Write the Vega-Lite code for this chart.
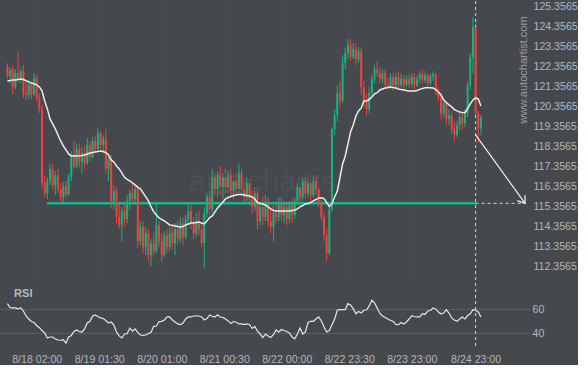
{
"$schema": "https://vega.github.io/schema/vega-lite/v6.json",
"background": "#45484d",
"padding": 0,
"autosize": {"type": "pad"},
"spacing": 0,
"config": {"view": {"stroke": null}, "font": "Liberation Sans", "axis": {"labelFont": "Liberation Sans", "labelColor": "#b3b6ba", "labelFontSize": 10.6, "domain": false, "ticks": false, "labelOverlap": false}},
"datasets": {"candles": [
{"t":-9,"o":122.35,"hi":122.5,"lo":121.7,"c":121.85,"ma":121.61,"rsi":64.7},
{"t":-8,"o":121.85,"hi":122.3,"lo":121.5,"c":122.15,"ma":121.63,"rsi":61.3},
{"t":-7,"o":122.2,"hi":122.4,"lo":120.95,"c":121.3,"ma":121.66,"rsi":61.1},
{"t":-6,"o":121.3,"hi":122.2,"lo":121.2,"c":122.0,"ma":121.66,"rsi":61.1},
{"t":-5,"o":122.0,"hi":123.1,"lo":121.55,"c":121.7,"ma":121.68,"rsi":60.3},
{"t":-4,"o":121.7,"hi":122.25,"lo":121.5,"c":122.1,"ma":121.71,"rsi":61.3},
{"t":-3,"o":122.1,"hi":122.4,"lo":120.75,"c":121.0,"ma":121.68,"rsi":58.6},
{"t":-2,"o":121.0,"hi":121.55,"lo":120.65,"c":120.9,"ma":121.62,"rsi":54.4},
{"t":-1,"o":120.9,"hi":121.65,"lo":120.7,"c":121.45,"ma":121.56,"rsi":51.9},
{"t":0,"o":121.45,"hi":121.6,"lo":120.7,"c":120.95,"ma":121.51,"rsi":49.8},
{"t":1,"o":120.95,"hi":122.0,"lo":120.85,"c":121.75,"ma":121.47,"rsi":49.0},
{"t":2,"o":121.75,"hi":121.9,"lo":120.6,"c":120.75,"ma":121.41,"rsi":46.3},
{"t":3,"o":120.75,"hi":121.0,"lo":120.0,"c":120.2,"ma":121.31,"rsi":44.8},
{"t":4,"o":120.2,"hi":120.4,"lo":116.2,"c":116.5,"ma":121.11,"rsi":42.3},
{"t":5,"o":116.5,"hi":116.9,"lo":115.8,"c":116.0,"ma":120.61,"rsi":40.3},
{"t":6,"o":116.0,"hi":116.8,"lo":115.7,"c":116.6,"ma":120.21,"rsi":36.1},
{"t":7,"o":116.6,"hi":117.45,"lo":116.4,"c":117.2,"ma":119.71,"rsi":36.9},
{"t":8,"o":117.2,"hi":117.45,"lo":116.2,"c":116.4,"ma":119.46,"rsi":36.9},
{"t":9,"o":116.4,"hi":117.1,"lo":115.9,"c":116.9,"ma":119.21,"rsi":35.3},
{"t":10,"o":116.9,"hi":117.2,"lo":116.0,"c":116.2,"ma":118.91,"rsi":34.4},
{"t":11,"o":116.2,"hi":116.5,"lo":115.6,"c":115.8,"ma":118.61,"rsi":34.2},
{"t":12,"o":115.8,"hi":116.55,"lo":115.5,"c":116.35,"ma":118.36,"rsi":34.7},
{"t":13,"o":116.35,"hi":116.6,"lo":115.75,"c":115.95,"ma":118.16,"rsi":31.9},
{"t":14,"o":115.95,"hi":117.0,"lo":115.85,"c":116.8,"ma":117.96,"rsi":36.9},
{"t":15,"o":116.8,"hi":118.1,"lo":116.6,"c":117.95,"ma":117.86,"rsi":38.2},
{"t":16,"o":117.95,"hi":118.6,"lo":117.2,"c":117.35,"ma":117.86,"rsi":41.5},
{"t":17,"o":117.35,"hi":118.45,"lo":117.25,"c":118.2,"ma":117.86,"rsi":42.8},
{"t":18,"o":118.2,"hi":118.5,"lo":117.3,"c":117.55,"ma":117.87,"rsi":41.5},
{"t":19,"o":117.55,"hi":118.3,"lo":117.0,"c":118.0,"ma":117.88,"rsi":41.1},
{"t":20,"o":118.0,"hi":118.35,"lo":117.2,"c":117.5,"ma":117.91,"rsi":43.6},
{"t":21,"o":117.5,"hi":118.75,"lo":117.4,"c":118.4,"ma":117.96,"rsi":48.6},
{"t":22,"o":118.4,"hi":118.6,"lo":117.6,"c":117.8,"ma":118.01,"rsi":50.0},
{"t":23,"o":117.8,"hi":118.8,"lo":117.7,"c":118.6,"ma":118.03,"rsi":54.2},
{"t":24,"o":118.6,"hi":118.9,"lo":118.0,"c":118.2,"ma":118.06,"rsi":55.3},
{"t":25,"o":118.2,"hi":119.25,"lo":118.1,"c":119.0,"ma":118.08,"rsi":54.0},
{"t":26,"o":119.0,"hi":119.1,"lo":118.2,"c":118.4,"ma":118.11,"rsi":52.8},
{"t":27,"o":118.4,"hi":118.9,"lo":118.0,"c":118.7,"ma":118.08,"rsi":52.3},
{"t":28,"o":118.7,"hi":119.2,"lo":116.95,"c":117.2,"ma":118.03,"rsi":50.7},
{"t":29,"o":117.2,"hi":118.0,"lo":116.6,"c":117.7,"ma":117.91,"rsi":48.6},
{"t":30,"o":117.7,"hi":117.9,"lo":115.25,"c":115.6,"ma":117.66,"rsi":49.4},
{"t":31,"o":115.6,"hi":116.4,"lo":115.2,"c":116.1,"ma":117.56,"rsi":46.9},
{"t":32,"o":116.1,"hi":116.3,"lo":114.5,"c":114.8,"ma":117.36,"rsi":41.1},
{"t":33,"o":114.8,"hi":115.5,"lo":114.2,"c":114.4,"ma":117.21,"rsi":37.8},
{"t":34,"o":114.4,"hi":115.3,"lo":113.6,"c":115.1,"ma":117.01,"rsi":36.1},
{"t":35,"o":115.1,"hi":115.5,"lo":114.3,"c":114.7,"ma":116.79,"rsi":39.4},
{"t":36,"o":114.7,"hi":115.9,"lo":114.5,"c":115.6,"ma":116.69,"rsi":39.7},
{"t":37,"o":115.6,"hi":116.2,"lo":115.2,"c":116.0,"ma":116.61,"rsi":44.4},
{"t":38,"o":116.0,"hi":116.45,"lo":115.45,"c":115.7,"ma":116.51,"rsi":41.7},
{"t":39,"o":115.7,"hi":116.4,"lo":115.5,"c":116.2,"ma":116.41,"rsi":43.6},
{"t":40,"o":116.2,"hi":116.4,"lo":113.25,"c":113.6,"ma":116.29,"rsi":40.8},
{"t":41,"o":113.6,"hi":114.6,"lo":113.4,"c":114.3,"ma":116.21,"rsi":38.6},
{"t":42,"o":114.3,"hi":114.6,"lo":113.0,"c":113.3,"ma":116.01,"rsi":38.3},
{"t":43,"o":113.3,"hi":114.3,"lo":112.9,"c":114.0,"ma":115.81,"rsi":38.6},
{"t":44,"o":114.0,"hi":114.2,"lo":112.6,"c":112.9,"ma":115.61,"rsi":39.8},
{"t":45,"o":112.9,"hi":113.7,"lo":112.35,"c":113.5,"ma":115.31,"rsi":40.8},
{"t":46,"o":113.5,"hi":114.0,"lo":112.8,"c":113.1,"ma":115.06,"rsi":45.8},
{"t":47,"o":113.1,"hi":115.45,"lo":113.0,"c":114.4,"ma":114.91,"rsi":46.1},
{"t":48,"o":114.4,"hi":114.6,"lo":113.3,"c":113.6,"ma":114.76,"rsi":49.8},
{"t":49,"o":113.6,"hi":114.0,"lo":112.6,"c":112.9,"ma":114.68,"rsi":50.0},
{"t":50,"o":112.9,"hi":114.1,"lo":112.8,"c":113.9,"ma":114.61,"rsi":51.1},
{"t":51,"o":113.9,"hi":114.2,"lo":113.0,"c":113.3,"ma":114.51,"rsi":53.6},
{"t":52,"o":113.3,"hi":114.3,"lo":113.1,"c":114.0,"ma":114.41,"rsi":53.6},
{"t":53,"o":114.0,"hi":114.4,"lo":113.2,"c":113.5,"ma":114.39,"rsi":51.1},
{"t":54,"o":113.5,"hi":114.5,"lo":112.9,"c":114.2,"ma":114.36,"rsi":49.4},
{"t":55,"o":114.2,"hi":114.6,"lo":113.4,"c":113.7,"ma":114.33,"rsi":47.8},
{"t":56,"o":113.7,"hi":114.8,"lo":113.5,"c":114.5,"ma":114.31,"rsi":47.2},
{"t":57,"o":114.5,"hi":114.8,"lo":113.4,"c":113.8,"ma":114.33,"rsi":48.6},
{"t":58,"o":113.8,"hi":114.9,"lo":113.7,"c":114.7,"ma":114.41,"rsi":51.9},
{"t":59,"o":114.7,"hi":115.45,"lo":114.4,"c":115.1,"ma":114.46,"rsi":53.6},
{"t":60,"o":115.1,"hi":115.4,"lo":114.2,"c":114.5,"ma":114.51,"rsi":53.6},
{"t":61,"o":114.5,"hi":114.8,"lo":113.7,"c":114.0,"ma":114.51,"rsi":54.4},
{"t":62,"o":114.0,"hi":115.0,"lo":113.8,"c":114.6,"ma":114.53,"rsi":54.4},
{"t":63,"o":114.6,"hi":115.1,"lo":113.9,"c":114.2,"ma":114.56,"rsi":54.4},
{"t":64,"o":114.2,"hi":114.5,"lo":113.3,"c":113.5,"ma":114.51,"rsi":53.6},
{"t":65,"o":113.5,"hi":115.3,"lo":112.25,"c":115.0,"ma":114.46,"rsi":51.1},
{"t":66,"o":115.0,"hi":116.0,"lo":114.8,"c":115.8,"ma":114.61,"rsi":52.3},
{"t":67,"o":115.8,"hi":116.1,"lo":114.9,"c":115.2,"ma":114.78,"rsi":55.3},
{"t":68,"o":115.2,"hi":117.2,"lo":115.0,"c":116.8,"ma":114.86,"rsi":54.2},
{"t":69,"o":116.8,"hi":117.0,"lo":115.9,"c":116.2,"ma":115.06,"rsi":53.6},
{"t":70,"o":116.2,"hi":117.1,"lo":115.8,"c":116.9,"ma":115.26,"rsi":55.5},
{"t":71,"o":116.9,"hi":117.35,"lo":115.9,"c":116.3,"ma":115.41,"rsi":53.6},
{"t":72,"o":116.3,"hi":117.0,"lo":115.7,"c":116.8,"ma":115.56,"rsi":53.2},
{"t":73,"o":116.8,"hi":117.2,"lo":116.0,"c":116.3,"ma":115.71,"rsi":51.9},
{"t":74,"o":116.3,"hi":117.1,"lo":116.0,"c":116.9,"ma":115.78,"rsi":50.3},
{"t":75,"o":116.9,"hi":117.2,"lo":115.8,"c":116.1,"ma":115.83,"rsi":48.2},
{"t":76,"o":116.1,"hi":116.9,"lo":115.7,"c":116.6,"ma":115.88,"rsi":49.8},
{"t":77,"o":116.6,"hi":117.0,"lo":115.9,"c":116.2,"ma":115.91,"rsi":49.2},
{"t":78,"o":116.2,"hi":117.45,"lo":116.0,"c":117.0,"ma":115.93,"rsi":47.8},
{"t":79,"o":117.0,"hi":117.2,"lo":115.9,"c":116.2,"ma":115.93,"rsi":47.8},
{"t":80,"o":116.2,"hi":116.6,"lo":115.5,"c":115.8,"ma":115.91,"rsi":47.3},
{"t":81,"o":115.8,"hi":116.8,"lo":115.6,"c":116.5,"ma":115.88,"rsi":47.8},
{"t":82,"o":116.5,"hi":116.7,"lo":115.4,"c":115.7,"ma":115.86,"rsi":47.3},
{"t":83,"o":115.7,"hi":116.2,"lo":115.0,"c":115.3,"ma":115.81,"rsi":44.0},
{"t":84,"o":115.3,"hi":116.3,"lo":115.1,"c":116.0,"ma":115.71,"rsi":45.7},
{"t":85,"o":116.0,"hi":116.3,"lo":114.2,"c":114.6,"ma":115.53,"rsi":41.7},
{"t":86,"o":114.6,"hi":115.6,"lo":114.4,"c":115.3,"ma":115.48,"rsi":39.4},
{"t":87,"o":115.3,"hi":115.8,"lo":114.4,"c":114.8,"ma":115.46,"rsi":36.5},
{"t":88,"o":114.8,"hi":115.9,"lo":114.6,"c":115.5,"ma":115.41,"rsi":39.4},
{"t":89,"o":115.5,"hi":115.8,"lo":114.3,"c":114.6,"ma":115.31,"rsi":37.8},
{"t":90,"o":114.6,"hi":115.2,"lo":114.0,"c":114.3,"ma":115.21,"rsi":36.5},
{"t":91,"o":114.3,"hi":115.4,"lo":113.6,"c":115.0,"ma":115.13,"rsi":38.8},
{"t":92,"o":115.0,"hi":115.6,"lo":114.5,"c":114.8,"ma":115.11,"rsi":42.8},
{"t":93,"o":114.8,"hi":115.8,"lo":114.6,"c":115.5,"ma":115.11,"rsi":41.1},
{"t":94,"o":115.5,"hi":115.8,"lo":114.6,"c":114.9,"ma":115.11,"rsi":43.2},
{"t":95,"o":114.9,"hi":115.6,"lo":114.5,"c":115.3,"ma":115.11,"rsi":42.3},
{"t":96,"o":115.3,"hi":115.5,"lo":114.4,"c":114.7,"ma":115.11,"rsi":41.5},
{"t":97,"o":114.7,"hi":115.6,"lo":114.5,"c":115.4,"ma":115.11,"rsi":40.3},
{"t":98,"o":115.4,"hi":115.7,"lo":114.5,"c":114.9,"ma":115.13,"rsi":36.9},
{"t":99,"o":114.9,"hi":115.8,"lo":114.7,"c":115.6,"ma":115.16,"rsi":35.3},
{"t":100,"o":115.6,"hi":116.5,"lo":115.4,"c":116.3,"ma":115.21,"rsi":39.4},
{"t":101,"o":116.3,"hi":116.5,"lo":115.5,"c":115.8,"ma":115.31,"rsi":44.4},
{"t":102,"o":115.8,"hi":116.8,"lo":115.6,"c":116.6,"ma":115.38,"rsi":39.4},
{"t":103,"o":116.6,"hi":116.9,"lo":115.7,"c":116.0,"ma":115.46,"rsi":41.1},
{"t":104,"o":116.0,"hi":116.8,"lo":115.8,"c":116.5,"ma":115.48,"rsi":49.0},
{"t":105,"o":116.5,"hi":116.75,"lo":115.6,"c":115.9,"ma":115.53,"rsi":50.0},
{"t":106,"o":115.9,"hi":116.85,"lo":115.8,"c":116.6,"ma":115.61,"rsi":50.0},
{"t":107,"o":116.6,"hi":116.9,"lo":115.9,"c":116.2,"ma":115.68,"rsi":51.9},
{"t":108,"o":116.2,"hi":116.4,"lo":115.3,"c":115.5,"ma":115.76,"rsi":53.6},
{"t":109,"o":115.5,"hi":115.7,"lo":114.6,"c":114.8,"ma":115.77,"rsi":50.3},
{"t":110,"o":114.8,"hi":115.0,"lo":113.6,"c":113.9,"ma":115.73,"rsi":45.3},
{"t":111,"o":113.9,"hi":114.2,"lo":112.6,"c":113.0,"ma":115.53,"rsi":41.1},
{"t":112,"o":113.0,"hi":115.3,"lo":112.9,"c":115.2,"ma":115.33,"rsi":42.3},
{"t":113,"o":115.2,"hi":119.3,"lo":115.1,"c":119.2,"ma":115.46,"rsi":47.2},
{"t":114,"o":119.2,"hi":120.2,"lo":118.9,"c":119.9,"ma":115.81,"rsi":51.9},
{"t":115,"o":119.9,"hi":121.4,"lo":119.6,"c":121.0,"ma":116.11,"rsi":59.2},
{"t":116,"o":121.0,"hi":121.6,"lo":120.3,"c":120.6,"ma":116.77,"rsi":59.7},
{"t":117,"o":120.6,"hi":122.9,"lo":120.5,"c":122.5,"ma":117.46,"rsi":59.7},
{"t":118,"o":122.5,"hi":123.3,"lo":122.2,"c":123.0,"ma":117.86,"rsi":59.7},
{"t":119,"o":123.0,"hi":123.7,"lo":122.7,"c":123.4,"ma":118.46,"rsi":64.7},
{"t":120,"o":123.4,"hi":123.7,"lo":122.6,"c":122.8,"ma":119.06,"rsi":63.6},
{"t":121,"o":122.8,"hi":123.5,"lo":122.7,"c":123.2,"ma":119.41,"rsi":60.3},
{"t":122,"o":123.2,"hi":123.5,"lo":122.4,"c":122.7,"ma":119.86,"rsi":56.3},
{"t":123,"o":122.7,"hi":123.3,"lo":122.5,"c":123.1,"ma":120.11,"rsi":58.2},
{"t":124,"o":123.1,"hi":123.3,"lo":120.9,"c":121.3,"ma":120.26,"rsi":56.9},
{"t":125,"o":121.3,"hi":121.6,"lo":120.3,"c":120.6,"ma":120.61,"rsi":59.2},
{"t":126,"o":120.6,"hi":121.0,"lo":119.85,"c":120.2,"ma":120.61,"rsi":59.4},
{"t":127,"o":120.2,"hi":121.3,"lo":120.0,"c":121.0,"ma":120.68,"rsi":62.8},
{"t":128,"o":121.0,"hi":121.9,"lo":120.8,"c":121.7,"ma":120.81,"rsi":67.5},
{"t":129,"o":121.7,"hi":122.4,"lo":121.5,"c":122.2,"ma":120.96,"rsi":65.3},
{"t":130,"o":122.2,"hi":122.6,"lo":121.8,"c":122.0,"ma":121.02,"rsi":61.1},
{"t":131,"o":122.0,"hi":122.3,"lo":121.5,"c":121.7,"ma":121.16,"rsi":56.5},
{"t":132,"o":121.7,"hi":122.2,"lo":121.5,"c":122.0,"ma":121.21,"rsi":54.4},
{"t":133,"o":122.0,"hi":122.2,"lo":121.2,"c":121.4,"ma":121.26,"rsi":53.2},
{"t":134,"o":121.4,"hi":121.8,"lo":121.15,"c":121.3,"ma":121.28,"rsi":51.9},
{"t":135,"o":121.3,"hi":122.0,"lo":121.2,"c":121.8,"ma":121.31,"rsi":50.7},
{"t":136,"o":121.8,"hi":122.0,"lo":121.1,"c":121.4,"ma":121.28,"rsi":50.0},
{"t":137,"o":121.4,"hi":122.0,"lo":121.2,"c":121.8,"ma":121.26,"rsi":47.3},
{"t":138,"o":121.8,"hi":122.1,"lo":121.2,"c":121.4,"ma":121.21,"rsi":47.2},
{"t":139,"o":121.4,"hi":122.0,"lo":121.3,"c":121.7,"ma":121.18,"rsi":49.0},
{"t":140,"o":121.7,"hi":121.9,"lo":121.2,"c":121.4,"ma":121.16,"rsi":47.8},
{"t":141,"o":121.4,"hi":121.9,"lo":121.3,"c":121.7,"ma":121.13,"rsi":49.4},
{"t":142,"o":121.7,"hi":121.95,"lo":121.25,"c":121.45,"ma":121.11,"rsi":51.9},
{"t":143,"o":121.45,"hi":122.0,"lo":121.3,"c":121.8,"ma":121.11,"rsi":54.7},
{"t":144,"o":121.8,"hi":122.0,"lo":121.2,"c":121.4,"ma":121.11,"rsi":54.0},
{"t":145,"o":121.4,"hi":121.9,"lo":121.3,"c":121.7,"ma":121.13,"rsi":53.6},
{"t":146,"o":121.7,"hi":122.1,"lo":121.5,"c":121.95,"ma":121.19,"rsi":53.6},
{"t":147,"o":121.95,"hi":122.2,"lo":121.5,"c":121.65,"ma":121.23,"rsi":56.3},
{"t":148,"o":121.65,"hi":122.1,"lo":121.5,"c":121.9,"ma":121.27,"rsi":55.7},
{"t":149,"o":121.9,"hi":122.0,"lo":121.3,"c":121.5,"ma":121.27,"rsi":58.6},
{"t":150,"o":121.5,"hi":122.0,"lo":121.4,"c":121.85,"ma":121.27,"rsi":59.0},
{"t":151,"o":121.85,"hi":122.1,"lo":121.6,"c":121.95,"ma":121.26,"rsi":61.1},
{"t":152,"o":121.95,"hi":122.0,"lo":120.9,"c":121.1,"ma":121.18,"rsi":60.3},
{"t":153,"o":121.1,"hi":121.3,"lo":120.6,"c":120.8,"ma":121.06,"rsi":57.8},
{"t":154,"o":120.8,"hi":121.0,"lo":119.7,"c":120.0,"ma":120.91,"rsi":56.3},
{"t":155,"o":120.0,"hi":120.7,"lo":119.8,"c":120.5,"ma":120.66,"rsi":56.9},
{"t":156,"o":120.5,"hi":120.6,"lo":119.4,"c":119.7,"ma":120.53,"rsi":59.7},
{"t":157,"o":119.7,"hi":120.2,"lo":119.4,"c":119.9,"ma":120.41,"rsi":56.9},
{"t":158,"o":119.9,"hi":120.1,"lo":118.95,"c":119.2,"ma":120.31,"rsi":52.8},
{"t":159,"o":119.2,"hi":119.6,"lo":118.6,"c":118.9,"ma":120.18,"rsi":51.1},
{"t":160,"o":118.9,"hi":119.6,"lo":118.8,"c":119.4,"ma":120.11,"rsi":50.0},
{"t":161,"o":119.4,"hi":120.0,"lo":119.1,"c":119.8,"ma":120.06,"rsi":51.9},
{"t":162,"o":119.8,"hi":120.0,"lo":119.2,"c":119.5,"ma":120.03,"rsi":53.6},
{"t":163,"o":119.5,"hi":120.2,"lo":119.3,"c":120.0,"ma":120.02,"rsi":51.9},
{"t":164,"o":120.0,"hi":121.6,"lo":119.8,"c":121.4,"ma":120.23,"rsi":54.8},
{"t":165,"o":121.4,"hi":123.0,"lo":121.2,"c":122.8,"ma":120.46,"rsi":56.3},
{"t":166,"o":122.8,"hi":124.8,"lo":122.0,"c":124.3,"ma":120.66,"rsi":59.7},
{"t":167,"o":124.3,"hi":124.5,"lo":119.8,"c":120.0,"ma":120.76,"rsi":59.2},
{"t":168,"o":120.0,"hi":120.1,"lo":118.5,"c":119.25,"ma":120.71,"rsi":57.8},
{"t":169,"o":119.25,"hi":119.9,"lo":118.9,"c":119.8,"ma":120.36,"rsi":53.6}
]},
"vconcat": [
{
"width": 530, "height": 280,
"layer": [
{"data": {"name": "candles"}, "mark": {"type": "rule", "strokeWidth": 1},
 "encoding": {
  "x": {"field": "t", "type": "quantitative", "title": null, "scale": {"domain": [-11.8, 187.45], "nice": false, "zero": false}, "axis": {"values": [2, 25.5, 49, 72.5, 96, 119.5, 143, 167], "tickCount": 20, "labels": false, "grid": true, "gridColor": "#4a4d52", "title": null}},
  "y": {"field": "lo", "type": "quantitative", "title": null, "scale": {"domain": [111.6065, 125.6065], "nice": false, "zero": false}, "axis": {"orient": "right", "values": [112.3565, 113.3565, 114.3565, 115.3565, 116.3565, 117.3565, 118.3565, 119.3565, 120.3565, 121.3565, 122.3565, 123.3565, 124.3565, 125.3565], "tickCount": 30, "format": ".4f", "grid": false, "labelPadding": 3, "labelOverlap": false, "labelBound": false, "title": null}},
  "y2": {"field": "hi"},
  "color": {"condition": {"test": "datum.c >= datum.o", "value": "#19b27f"}, "value": "#f2413e"}
 }},
{"data": {"values": [{}]}, "mark": {"type": "text", "text": "autochartist", "fontSize": 30, "color": "#4d5055", "align": "left", "baseline": "alphabetic"},
 "encoding": {"x": {"datum": 59.3, "type": "quantitative"}, "y": {"datum": 116.11, "type": "quantitative"}}},
{"data": {"values": [{}]}, "mark": {"type": "text", "text": "www.autochartist.com", "fontSize": 11, "color": "#9b9ea2", "align": "center", "baseline": "middle", "angle": 270},
 "encoding": {"x": {"datum": 185.3, "type": "quantitative"}, "y": {"datum": 122.16, "type": "quantitative"}}},
{"data": {"values": [{}]}, "mark": {"type": "rule", "color": "#1db489", "strokeWidth": 2.5},
 "encoding": {"x": {"datum": 5.9, "type": "quantitative"}, "x2": {"datum": 167}, "y": {"datum": 115.49, "type": "quantitative"}}},
{"data": {"values": [{}]}, "mark": {"type": "rule", "color": "#d6d6d6", "strokeWidth": 1, "strokeDash": [3, 3]},
 "encoding": {"x": {"datum": 167, "type": "quantitative"}, "x2": {"datum": 185.6}, "y": {"datum": 115.49, "type": "quantitative"}}},
{"data": {"values": [{}]}, "mark": {"type": "rule", "color": "#d6d6d6", "strokeWidth": 1, "strokeDash": [3, 3]},
 "encoding": {"x": {"datum": 167, "type": "quantitative"}}},
{"data": {"name": "candles"}, "mark": {"type": "rule", "strokeWidth": 2},
 "encoding": {
  "x": {"field": "t", "type": "quantitative", "title": null},
  "y": {"field": "o", "type": "quantitative", "title": null},
  "y2": {"field": "c"},
  "color": {"condition": {"test": "datum.c >= datum.o", "value": "#19b27f"}, "value": "#f2413e"}
 }},
{"data": {"name": "candles"}, "mark": {"type": "line", "color": "#ebebeb", "strokeWidth": 1.5},
 "encoding": {"x": {"field": "t", "type": "quantitative", "title": null}, "y": {"field": "ma", "type": "quantitative", "title": null}}},
{"data": {"values": [{}]}, "mark": {"type": "rule", "color": "#f0f0f0", "strokeWidth": 1.2},
 "encoding": {"x": {"datum": 167, "type": "quantitative"}, "x2": {"datum": 185.6}, "y": {"datum": 118.91, "type": "quantitative"}, "y2": {"datum": 115.49}}},
{"data": {"values": [{}]}, "mark": {"type": "point", "shape": "M-1,-0.7L0,0L-1,0.7", "filled": false, "stroke": "#f0f0f0", "strokeWidth": 1.2, "size": 180, "angle": 54, "opacity": 1},
 "encoding": {"x": {"datum": 185.6, "type": "quantitative"}, "y": {"datum": 115.49, "type": "quantitative"}}}
]
},
{
"width": 530, "height": 65,
"layer": [
{"data": {"name": "candles"}, "mark": {"type": "line", "color": "#e6e6e6", "strokeWidth": 1.2},
 "encoding": {
  "x": {"field": "t", "type": "quantitative", "title": null, "scale": {"domain": [-11.8, 187.45], "nice": false, "zero": false}, "axis": {"values": [2, 25.5, 49, 72.5, 96, 119.5, 143, 167], "tickCount": 20, "grid": false, "labelPadding": 6, "labelFlush": false, "labelOverlap": false, "title": null, "labelExpr": "datum.value == 2 ? '8/18 02:00' : datum.value == 25.5 ? '8/19 01:30' : datum.value == 49 ? '8/20 01:00' : datum.value == 72.5 ? '8/21 00:30' : datum.value == 96 ? '8/22 00:00' : datum.value == 119.5 ? '8/22 23:30' : datum.value == 143 ? '8/23 23:00' : '8/24 23:00'"}},
  "y": {"field": "rsi", "type": "quantitative", "title": null, "scale": {"domain": [27.75, 81.9], "nice": false, "zero": false}, "axis": {"orient": "right", "values": [40, 60], "tickCount": 10, "grid": true, "gridColor": "#5c5f64", "labelPadding": 2, "labelOverlap": false, "title": null}}
 }},
{"data": {"values": [{}]}, "mark": {"type": "text", "text": "RSI", "fontSize": 11, "fontWeight": "bold", "color": "#b8bbbf", "align": "left", "baseline": "middle"},
 "encoding": {"x": {"datum": -6.5, "type": "quantitative"}, "y": {"datum": 72.75, "type": "quantitative"}}},
{"data": {"values": [{}]}, "mark": {"type": "rule", "color": "#d6d6d6", "strokeWidth": 1, "strokeDash": [3, 3]},
 "encoding": {"x": {"datum": 167, "type": "quantitative"}}}
]
}
]
}
